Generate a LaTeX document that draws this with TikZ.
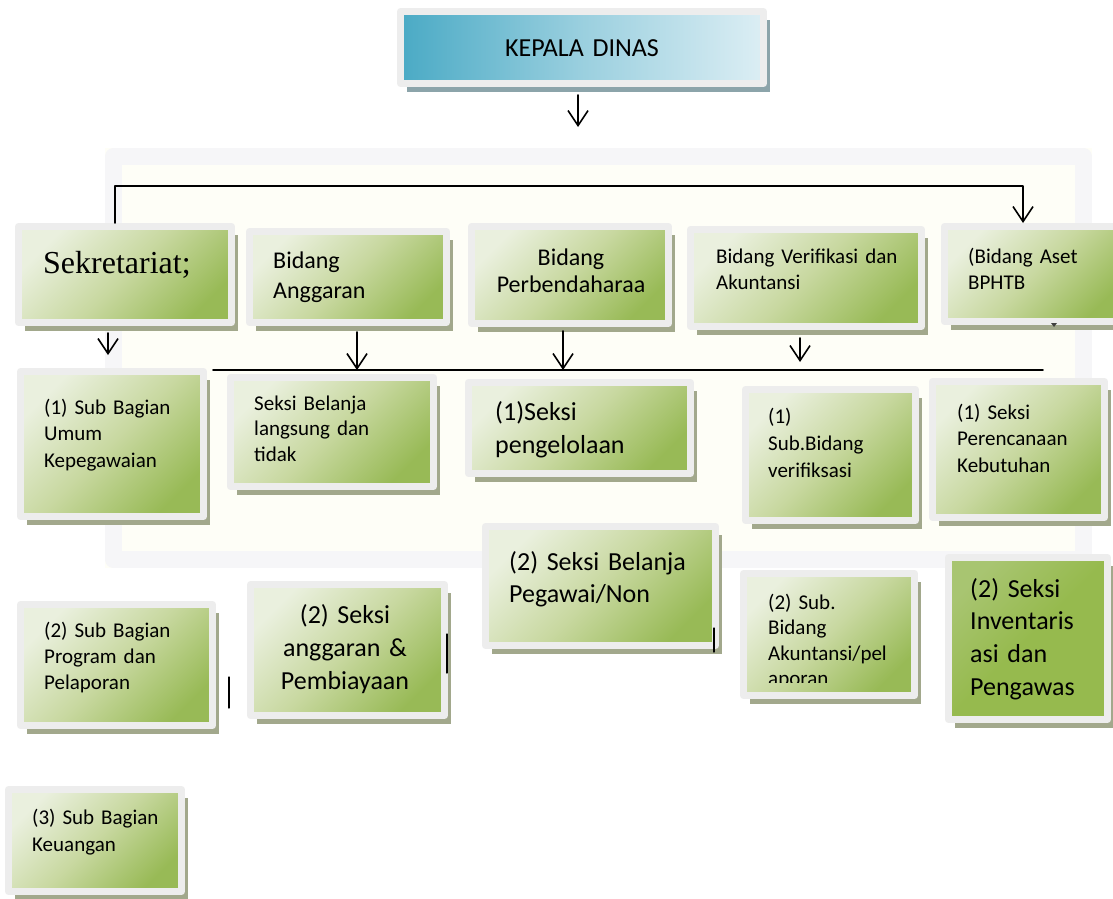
\documentclass[tikz,border=0pt]{standalone}
\usepackage{fontspec}
\newfontfamily\calibri{Carlito}
\newfontfamily\timesfont{Liberation Serif}
\usetikzlibrary{arrows.meta,shadows}
\definecolor{framegray}{RGB}{237,237,237}
\definecolor{shadowgreen}{RGB}{162,168,140}
\definecolor{greenpale}{RGB}{234,240,222}
\definecolor{greenmid}{RGB}{200,216,160}
\definecolor{greendeep}{RGB}{152,186,86}
\definecolor{greensolid}{RGB}{150,186,78}
\definecolor{tealdeep}{RGB}{74,170,197}
\definecolor{teallight}{RGB}{220,238,244}
\definecolor{shadowteal}{RGB}{140,164,170}
\definecolor{wmgray}{RGB}{246,246,248}
\definecolor{wmcream}{RGB}{254,254,247}

\tikzset{
  unitbox/.style 2 args={rectangle,draw=framegray,line width=7pt,outer sep=3.5pt,
    inner sep=0pt,anchor=north west,minimum width=#1,minimum height=#2,
    top color=greenpale,bottom color=greendeep,middle color=greenmid,shading angle=45,
    drop shadow={shadow xshift=6pt,shadow yshift=-8pt,fill=shadowgreen,opacity=1}},
  deepbox/.style={top color=greendeep!80!greenpale,bottom color=greensolid,
    middle color=greensolid,shading angle=45},
  headbox/.style={rectangle,draw=framegray,line width=7pt,outer sep=3.5pt,
    inner sep=0pt,anchor=north west,minimum width=363pt,minimum height=72pt,
    left color=tealdeep,right color=teallight,middle color=teallight!55!tealdeep,
    drop shadow={shadow xshift=6pt,shadow yshift=-8pt,fill=shadowteal,opacity=1}},
  unittext/.style 2 args={anchor=base west,align=left,text width=240pt,inner sep=0pt,
    font=\calibri\fontsize{#1}{#2}\selectfont},
  midtext/.style 2 args={anchor=base,align=center,text width=240pt,inner sep=0pt,
    font=\calibri\fontsize{#1}{#2}\selectfont},
  link/.style={line width=1.6pt,-{Straight Barb[length=15pt,width=20pt,line width=1.6pt]}},
  cursor/.style={line width=1.3pt},
}

\begin{document}
\begin{tikzpicture}[x=1pt,y=-1pt,line cap=round,line join=round]
 \useasboundingbox (0,0) rectangle (1113,898);
 % faint background of the scanned page
 \fill[wmcream] (105,148) rectangle (1092,568);
 \draw[wmgray,line width=17pt] (113.5,156.5) rectangle (1083.5,559.5);

 % head
 \node[headbox] (kepala) at (397,8) {};
 \node[midtext={26}{30}] (kepala-t) at (582,56) {KEPALA DINAS};
 \coordinate (kepala-tip) at (578,127);
 \draw[link] ([yshift=-8pt]kepala.south -| kepala-tip) -- (kepala-tip);

 % second level
 \node[unitbox={213pt}{96pt}] (sek) at (15,223) {};
 \node[unitbox={197pt}{91pt}] (angg) at (246,228) {};
 \node[unitbox={197pt}{97pt}] (bend) at (468,223) {};
 \node[unitbox={231pt}{97pt}] (verif) at (687,226) {};
 \node[unitbox={179pt}{95pt}] (aset) at (941,223) {};
 \node[anchor=base west,inner sep=0pt,font=\timesfont\fontsize{32}{36}\selectfont]
  (sek-t) at (43,273) {Sekretariat;};
 \node[unittext={24}{30}] (angg-t) at (273,268) {Bidang\\Anggaran};
 \node[midtext={24}{27}] (bend-t) at (571,265) {Bidang\\Perbendaharaa};
 \node[unittext={21}{26}] (verif-t) at (716,263) {Bidang Verifikasi dan\\Akuntansi};
 \node[unittext={21}{26}] (aset-t) at (968,263) {(Bidang Aset\\BPHTB};
 \fill[black!75] (1051,323) -- (1057,323) -- (1054,327) -- cycle;

 \coordinate (brk) at (115,186);
 \coordinate (brk-r) at (1023,186);
 \draw[link] (sek.north -| brk) -- (brk) -- (brk-r) -- (aset.north -| brk-r);

 % third level
 \node[unitbox={183pt}{145pt}] (umum) at (17,368) {};
 \node[unitbox={203pt}{109pt}] (blj) at (227,374) {};
 \node[unitbox={222pt}{91pt}] (kelola) at (465,379) {};
 \node[unitbox={170pt}{131pt}] (subver) at (742,386) {};
 \node[unitbox={172pt}{136pt}] (rencana) at (929,378) {};
 \node[unittext={21}{26.5}] (umum-t) at (44,414) {(1) Sub Bagian\\Umum\\Kepegawaian};
 \node[unittext={21}{25.5}] (blj-t) at (254,410) {Seksi Belanja\\langsung dan\\tidak};
 \node[unittext={26}{33}] (kelola-t) at (495,420) {(1)Seksi\\pengelolaan};
 \node[unittext={21}{27}] (subver-t) at (768,423) {(1)\\Sub.Bidang\\verifiksasi};
 \node[unittext={21}{26.5}] (rencana-t) at (957,419) {(1) Seksi\\Perencanaan\\Kebutuhan};

 \coordinate (bar-l) at (213,370);
 \coordinate (bar-r) at (1043,370);
 \draw[line width=1.6pt] (bar-l) -- (bar-r);
 \coordinate (sek-tip) at (108,355);
 \coordinate (verif-tip) at (800,362);
 \draw[link] ([yshift=-7pt]sek.south -| sek-tip) -- (sek-tip);
 \draw[link] ([yshift=-6pt]angg.south -| 357,0) -- (357,0 |- bar-l);
 \draw[link] ([yshift=-4pt]bend.south -| 563,0) -- (563,0 |- bar-l);
 \draw[link] ([yshift=-8pt]verif.south -| verif-tip) -- (verif-tip);

 % fourth level
 \node[unitbox={192pt}{121pt}] (prog) at (17,601) {};
 \node[unitbox={194pt}{131pt}] (biaya) at (247,581) {};
 \node[unitbox={230pt}{119pt}] (pegawai) at (482,523) {};
 \node[unitbox={171pt}{122pt}] (akun) at (740,570) {};
 \node[unitbox={159pt}{162pt},deepbox] (invent) at (945,554) {};
 \node[unittext={21}{26}] (prog-t) at (44,637) {(2) Sub Bagian\\Program dan\\Pelaporan};
 \node[midtext={26}{33}] (biaya-t) at (345,623) {(2) Seksi\\anggaran \&\\Pembiayaan};
 \node[unittext={26}{32}] (pegawai-t) at (509,570) {(2) Seksi Belanja\\Pegawai/Non};
 \begin{scope}
  \clip (740,570) rectangle (918,682);
  \node[unittext={21}{25.5}] (akun-t) at (768,609) {(2) Sub.\\Bidang\\Akuntansi/pel\\aporan};
 \end{scope}
 \node[unittext={26}{32.7}] (invent-t) at (970,597) {(2) Seksi\\Inventaris\\asi dan\\Pengawas};
 \draw[cursor] (229,677) -- (229,708);
 \draw[cursor] (447,634) -- (447,673);
 \draw[cursor] (714,628) -- (714,652);

 % fifth level
 \node[unitbox={173pt}{102pt}] (uang) at (5,786) {};
 \node[unittext={21}{27}] (uang-t) at (32,824) {(3) Sub Bagian\\Keuangan};
\end{tikzpicture}
\end{document}
